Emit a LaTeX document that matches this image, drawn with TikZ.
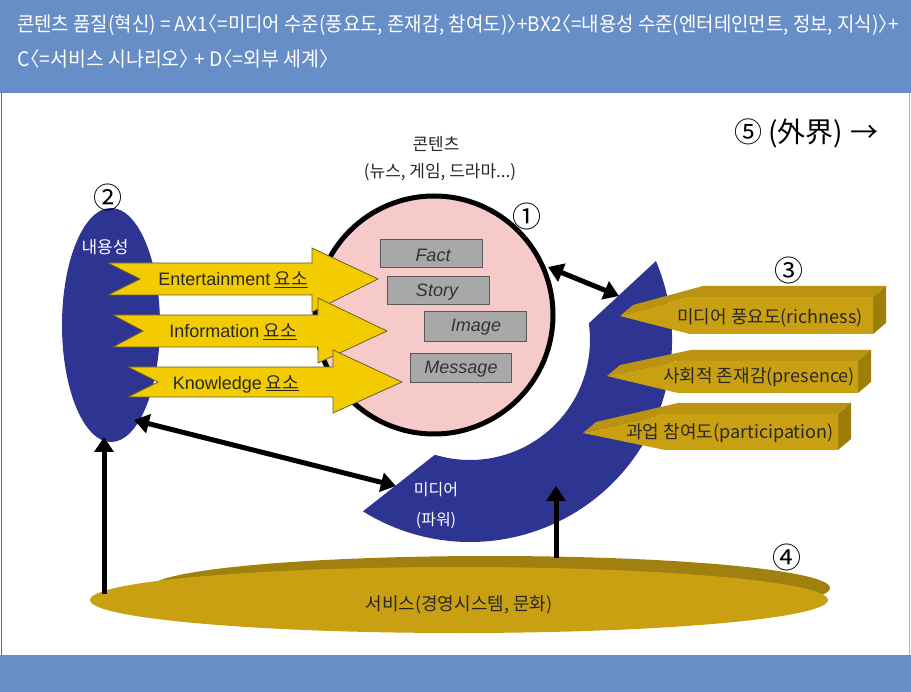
\documentclass[tikz,border=0pt]{standalone}
\usepackage{fontspec}
\setmainfont{Noto Sans CJK KR}
\newfontfamily\lat{Liberation Sans}
\usetikzlibrary{arrows.meta,shapes.geometric,calc}
\definecolor{hdrblue}{RGB}{104,142,200}
\definecolor{mblue}{RGB}{46,52,145}
\definecolor{ayellow}{RGB}{242,204,0}
\definecolor{aedge}{RGB}{105,95,45}
\definecolor{gold}{RGB}{201,160,18}
\definecolor{goldtop}{RGB}{186,148,16}
\definecolor{goldside}{RGB}{158,126,10}
\definecolor{golddark}{RGB}{160,128,14}
\definecolor{pinkc}{RGB}{247,202,202}
\definecolor{grayb}{RGB}{168,168,168}
\definecolor{txt}{RGB}{40,40,40}
\newcommand\lbk{\makebox[0.52em][r]{〈}}
\newcommand\rbk{\makebox[0.52em][l]{〉}}
\newcommand\goldprism[6]{%
  \fill[goldtop] (#1,#2) -- (#3,#5) -- (#4,#5) -- (#4+13,#5-11) -- (#3+13,#5-11) -- (#1+13,#2-11) -- cycle;
  \fill[goldside] (#4,#5) -- (#4+13,#5-11) -- (#4+13,#6-11) -- (#4,#6) -- cycle;
  \fill[gold] (#1,#2) -- (#3,#5) -- (#4,#5) -- (#4,#6) -- (#3,#6) -- cycle;
}
\begin{document}
\begin{tikzpicture}[x=1pt,y=-1pt,
  hdr/.style={text=white,font=\fontsize{20}{20}\selectfont,anchor=west,inner sep=0},
  yarrow/.style={fill=ayellow,draw=aedge,line width=0.8pt},
  graybox/.style={fill=grayb,draw=black!65,line width=1pt},
  graytxt/.style={text=black!80,font=\lat\itshape\fontsize{18}{18}\selectfont,inner sep=0},
  atxt/.style={text=txt,font=\fontsize{18}{18}\selectfont,inner sep=0},
  btxt/.style={text=txt,font=\fontsize{17}{17}\selectfont,inner sep=0},
  gtxt/.style={text=txt,font=\fontsize{18}{18}\selectfont,inner sep=0},
  wtxt/.style={text=white,font=\fontsize{16}{16}\selectfont,inner sep=0},
  numtxt/.style={text=black,font=\fontsize{29}{29}\selectfont,inner sep=0},
  dblarrow/.style={line width=5pt,{Triangle[length=15pt,width=19pt]}-{Triangle[length=15pt,width=19pt]}},
  uparrow/.style={line width=5pt,-{Triangle[length=15pt,width=19pt]}}
]
\useasboundingbox (0,0) rectangle (911,692);
% bands and frame
\fill[white] (0,0) rectangle (911,692);
\fill[hdrblue] (0,0) rectangle (911,93);
\fill[hdrblue] (0,655) rectangle (911,692);
\draw[black!60,line width=1pt] (1.5,93) -- (1.5,655);
\draw[black!30,line width=0.8pt] (909.5,93) -- (909.5,655);
\node[hdr] (h1) at (17,25) {\scalebox{0.945}[1]{콘텐츠 품질(혁신) = AX1\lbk=미디어 수준(풍요도, 존재감, 참여도)\rbk+BX2\lbk=내용성 수준(엔터테인먼트, 정보, 지식)\rbk+}};
\node[hdr] (h2) at (17,59) {\scalebox{0.97}[1]{C\lbk=서비스 시나리오\rbk{} + D\lbk=외부 세계\rbk}};
% bottom disk
\fill[golddark] (490,588) ellipse[x radius=340,y radius=32];
\node[ellipse,fill=gold,minimum width=738,minimum height=66,inner sep=0] (svc) at (459,600) {};
\node[gtxt] (svct) at (459,605) {서비스(경영시스템, 문화)};
% media arc
\fill[mblue] ($(470,340)+(-23:202)$) arc[start angle=-23,end angle=122,radius=202]
  -- ($(470,340)+(107:120)$) arc[start angle=107,end angle=-8,radius=120] -- cycle;
\node[wtxt] (md1) at (436,490) {미디어};
\node[wtxt] (md2) at (436,520) {(파워)};
% content circle
\node[circle,fill=pinkc,draw=black,line width=5pt,minimum size=238,inner sep=0] (cc) at (434,315) {};
\node[btxt] (ct1) at (436,144) {콘텐츠};
\node[btxt] (ct2) at (440,172) {(뉴스, 게임, 드라마...)};
% gray boxes
\draw[graybox] (380,240) rectangle (482,268);
\node[graytxt] (fact) at (433,255) {Fact};
\draw[graybox] (387,277) rectangle (489,305);
\node[graytxt] (story) at (437,292) {Story};
\draw[graybox] (424,312) rectangle (526,342);
\node[graytxt] (image) at (476,327) {Image};
\draw[graybox] (410,354) rectangle (511,383);
\node[graytxt] (msg) at (461,369) {Message};
% left ellipse
\node[ellipse,fill=mblue,minimum width=98,minimum height=234,inner sep=0] (ce) at (111,325) {};
\node[wtxt,font=\fontsize{17}{17}\selectfont] (cet) at (105,247) {내용성};
% yellow arrows
\draw[yarrow] (108,263) -- (312,263) -- (312,248) -- (378,279) -- (312,312) -- (312,295) -- (108,295) -- (140,279) -- cycle;
\draw[yarrow] (113,315) -- (318,315) -- (318,298) -- (387,331) -- (318,363) -- (318,347) -- (113,347) -- (143,331) -- cycle;
\draw[yarrow] (128,367) -- (333,367) -- (333,350) -- (402,382) -- (333,413) -- (333,397) -- (128,397) -- (158,382) -- cycle;
\node[atxt] (a1) at (233,280) {{\lat Entertainment} \underline{요소}};
\node[atxt] (a2) at (233,332) {{\lat Information} \underline{요소}};
\node[atxt] (a3) at (236,384) {{\lat Knowledge} \underline{요소}};
% gold prisms
\goldprism{620}{316}{690}{873}{297}{334}
\goldprism{607}{376}{678}{858}{361}{393}
\goldprism{583}{433}{665}{838}{414}{450}
\node[gtxt] (g1) at (770,318) {미디어 풍요도(richness)};
\node[gtxt] (g2) at (759,377) {사회적 존재감(presence)};
\node[gtxt] (g3) at (730,433) {과업 참여도(participation)};
% connectors
\coordinate (p1) at (548,267);
\coordinate (p2) at (619,296);
\coordinate (q1) at (134,420);
\coordinate (q2) at (396,486);
\coordinate (u1) at (104,594);
\coordinate (u2) at (104,437);
\coordinate (v1) at (556,558);
\coordinate (v2) at (556,486);
\draw[dblarrow] (p1) -- (p2);
\draw[dblarrow] (q1) -- (q2);
\draw[uparrow] (u1) -- (u2);
\draw[uparrow] (v1) -- (v2);
% numbers
\node[numtxt] (n1) at (527,216) {①};
\node[numtxt] (n2) at (108,197) {②};
\node[numtxt] (n3) at (789,270) {③};
\node[numtxt] (n4) at (787,557) {④};
\node[numtxt,font=\fontsize{28}{28}\selectfont,anchor=west] (n5) at (734,133) {⑤\hspace{6pt}(外界)\hspace{7pt}→};
\end{tikzpicture}
\end{document}
